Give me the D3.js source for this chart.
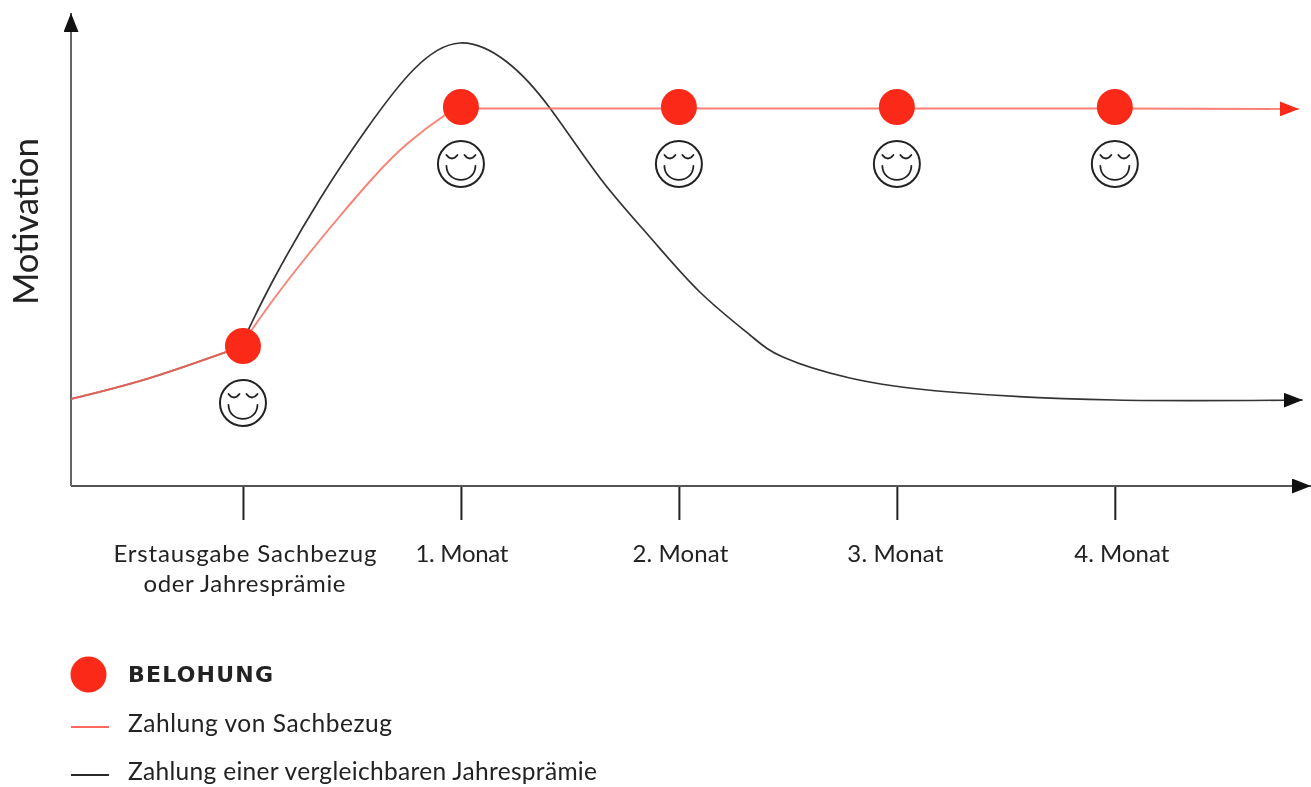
<!DOCTYPE html>
<html><head><meta charset="utf-8">
<script src="https://cdn.jsdelivr.net/npm/d3@7"></script>
<style>html,body{margin:0;padding:0;background:#fff}svg{display:block;filter:blur(0.45px)}text{font-family:"Lato",sans-serif;fill:#222}</style>
</head><body><div id="c"></div>
<script>
const monthTicks=[0,1,2,3,4];
const tickLabels=[["Erstausgabe Sachbezug","oder Jahresprämie"],["1. Monat"],["2. Monat"],["3. Monat"],["4. Monat"]];
const rewardMonths=[0,1,2,3,4];
const rewardValues=[140,379,379,379,379];
const leadInMonths=[-0.789,-0.427,0];
const leadInValues=[87,108,140];
const sachbezugMonths=[0,0.138,0.294,0.445,0.596,0.752,0.927,1];
const sachbezugValues=[143.5,186,230,270,308,342,371,380];
const sachbezugFlatMonths=[1,2,3,4,4.844];
const sachbezugFlatValues=[377.5,377.5,377.5,377.5,377];
const praemieMonths=[0,0.139,0.353,0.567,0.781,0.995,1.211,1.408,1.638,1.867,2.096,2.326,2.477,2.784,3.243,4,4.862];
const praemieValues=[145,206,287,357,416,443,424,378,308,249,194,151,129,108,94,86,86];
const legendLabels=["BELOHUNG","Zahlung von Sachbezug","Zahlung einer vergleichbaren Jahresprämie"];
const axisTitle="Motivation";

const W=1311,H=787,red="#fb2a18",lineRed="#fb6a5c",ink="#222";
const svg=d3.select("#c").append("svg").attr("width",W).attr("height",H);
const x=d3.scaleLinear().domain([-0.789,4.9]).range([71,1311]);
const y=d3.scaleLinear().domain([0,470]).range([486,16]);
const defs=svg.append("defs");
function marker(id,c){defs.append("marker").attr("id",id).attr("viewBox","0 0 19 15").attr("refX",19).attr("refY",7.5)
 .attr("markerUnits","userSpaceOnUse").attr("markerWidth",19).attr("markerHeight",15).attr("orient","auto")
 .append("path").attr("d","M0,0L19,7.5L0,15Z").attr("fill",c);}
marker("aBlack","#111");marker("aRed",red);

// axes
const labelLayout=[[{w:263,dx:1.5},{w:202,dx:1}],[{w:93,dx:0.5}],[{w:96,dx:1}],[{w:96,dx:-2}],[{w:95,dx:6.5}]];
const xAxis=d3.axisBottom(x).tickValues(monthTicks).tickSizeOuter(0).tickSizeInner(34).tickPadding(0).tickFormat("");
const gx=svg.append("g").attr("transform",`translate(0,${y(0)})`).call(xAxis);
gx.select(".domain").remove();
gx.selectAll(".tick line").attr("stroke","#222").attr("stroke-width",2);
gx.selectAll(".tick").append("text").attr("text-anchor","middle").style("font-size","24px").attr("fill",ink)
 .each(function(d,i){const t=d3.select(this);
   tickLabels[i].forEach((s,k)=>t.append("tspan").attr("x",labelLayout[i][k].dx).attr("y",76+k*30)
     .attr("textLength",labelLayout[i][k].w).text(s));});
svg.append("line").attr("x1",x(-0.789)).attr("x2",x(4.9)).attr("y1",y(0)).attr("y2",y(0)).attr("stroke","#555").attr("stroke-width",2).attr("marker-end","url(#aBlack)");
svg.append("line").attr("x1",x(-0.789)).attr("x2",x(-0.789)).attr("y1",y(0)).attr("y2",y(473)).attr("stroke","#666").attr("stroke-width",2).attr("marker-end","url(#aBlack)");
svg.append("text").attr("transform",`translate(38,${y(264.5)}) rotate(-90)`).attr("text-anchor","middle")
  .attr("textLength",167).style("font-size","35px").text(axisTitle);

// lines: the kink at the first reward and at the first month splits each series into smooth segments
const line=d3.line().x(d=>x(d[0])).y(d=>y(d[1])).curve(d3.curveNatural);
const leadIn=d3.zip(leadInMonths,leadInValues);
const blackD=[leadIn,d3.zip(praemieMonths,praemieValues)].map(line).join("");
const redD=[leadIn,d3.zip(sachbezugMonths,sachbezugValues),d3.zip(sachbezugFlatMonths,sachbezugFlatValues)].map(line).join("");
svg.append("path").attr("d",blackD).attr("fill","none").attr("stroke","#333").attr("stroke-width",1.7).attr("marker-end","url(#aBlack)");
svg.append("path").attr("d",redD).attr("fill","none").attr("stroke",lineRed).attr("stroke-width",1.9).attr("stroke-opacity",0.85).attr("marker-end","url(#aRed)");

// rewards
const pts=d3.zip(rewardMonths,rewardValues);
svg.append("g").selectAll("circle").data(pts).join("circle").attr("cx",d=>x(d[0])).attr("cy",d=>y(d[1])).attr("r",18).attr("fill",red);

// smileys
function face(g){
 const p=d3.path();
 p.moveTo(-14.5,-9);p.quadraticCurveTo(-9,-2,-3.5,-9);
 p.moveTo(3.5,-9);p.quadraticCurveTo(9,-2,14.5,-9);
 p.moveTo(-14.5,2);p.bezierCurveTo(-14,20.5,14,20.5,14.5,2);
 g.append("circle").attr("r",23).attr("fill","#fff").attr("stroke","#222").attr("stroke-width",2);
 g.append("path").attr("d",p.toString()).attr("fill","none").attr("stroke","#222").attr("stroke-width",1.8).attr("stroke-linecap","round");
}
svg.append("g").selectAll("g").data(pts).join("g").attr("transform",d=>`translate(${x(d[0])},${y(d[1])+57})`).each(function(){face(d3.select(this));});

// legend
const lg=svg.append("g");
lg.append("circle").attr("cx",88.5).attr("cy",674.5).attr("r",18).attr("fill",red);
lg.append("line").attr("x1",71).attr("x2",109).attr("y1",727).attr("y2",727).attr("stroke",lineRed).attr("stroke-width",2);
lg.append("line").attr("x1",71).attr("x2",109).attr("y1",775).attr("y2",775).attr("stroke","#2a2a2a").attr("stroke-width",2);
lg.selectAll("text").data(legendLabels).join("text").attr("x",128).attr("y",(d,i)=>[682,732,780][i])
  .attr("textLength",(d,i)=>[145,264,469][i])
  .style("font-family",(d,i)=>i?null:'"DejaVu Sans"')
  .style("font-size",(d,i)=>i?"24.5px":"22px").style("font-weight",(d,i)=>i?400:700).text(d=>d);
</script></body></html>
